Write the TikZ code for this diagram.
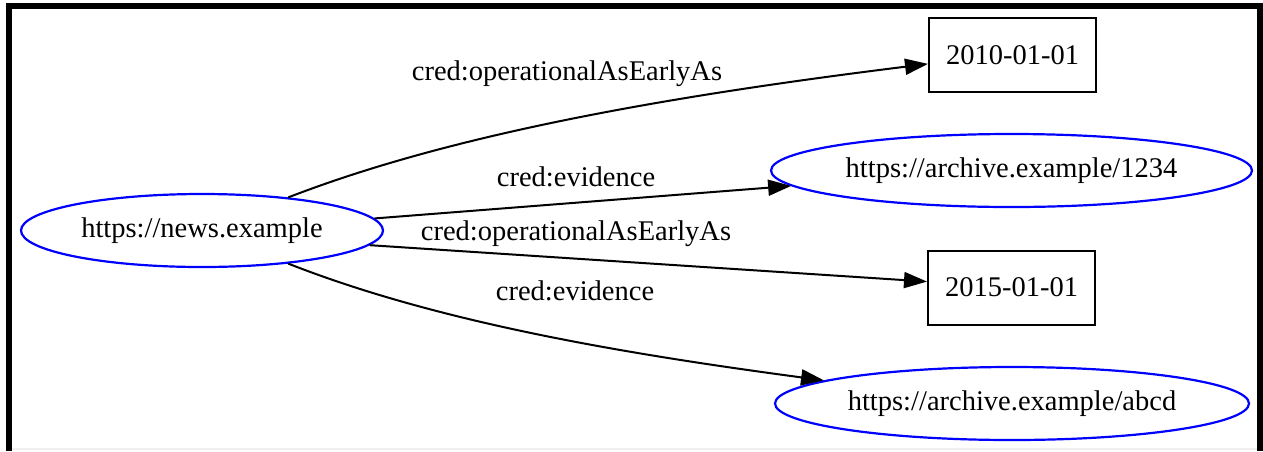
\documentclass[tikz,border=0pt]{standalone}
\usepackage{fontspec}
\setmainfont{Liberation Serif}
\usetikzlibrary{shapes.geometric,arrows.meta}
\begin{document}
\begin{tikzpicture}[x=1pt,y=-1pt,
  lab/.style={font=\fontsize{28.5}{34}\selectfont},
  uri/.style={lab, ellipse, draw=blue, line width=2.2pt, inner sep=0pt, minimum height=73pt},
  lit/.style={lab, rectangle, draw=black, line width=2pt, inner sep=0pt, minimum width=167pt, minimum height=74pt},
  conn/.style={draw=black, line width=2pt, -{Triangle[length=23pt,width=16pt]}},
  elabel/.style={lab, anchor=base, inner sep=0pt},
  frame/.style={line width=6pt, line join=miter}]
\useasboundingbox (0,0) rectangle (1263,451);
% frame
\draw[black!6, line width=1.2pt] (12,449) -- (1257,449);
\draw[frame] (9,451) -- (9,6) -- (1260,6) -- (1260,451);
% nodes
\node[uri, minimum width=362pt] (news) at (202,230.5) {https://news.example};
\node[lit] (d2010) at (1012.5,55) {2010-01-01};
\node[uri, minimum width=481pt] (a1234) at (1011.5,170.5) {https://archive.example/1234};
\node[lit] (d2015) at (1011.5,287.5) {2015-01-01};
\node[uri, minimum width=474pt] (aabcd) at (1012,403.5) {https://archive.example/abcd};
% edges
\draw[conn] (news.21) .. controls (457,132) and (678,95) .. (d2010.186);
\draw[conn] (news.4) -- (a1234.184);
\draw[conn] (news.355) -- (d2015.176);
\draw[conn] (news.339) .. controls (437,322) and (619,353) .. (aabcd.173);
% edge labels
\node[elabel] (l1) at (567,80) {cred:operationalAsEarlyAs};
\node[elabel] (l2) at (576,186) {cred:evidence};
\node[elabel] (l3) at (576,240) {cred:operationalAsEarlyAs};
\node[elabel] (l4) at (575,300) {cred:evidence};
\end{tikzpicture}
\end{document}
